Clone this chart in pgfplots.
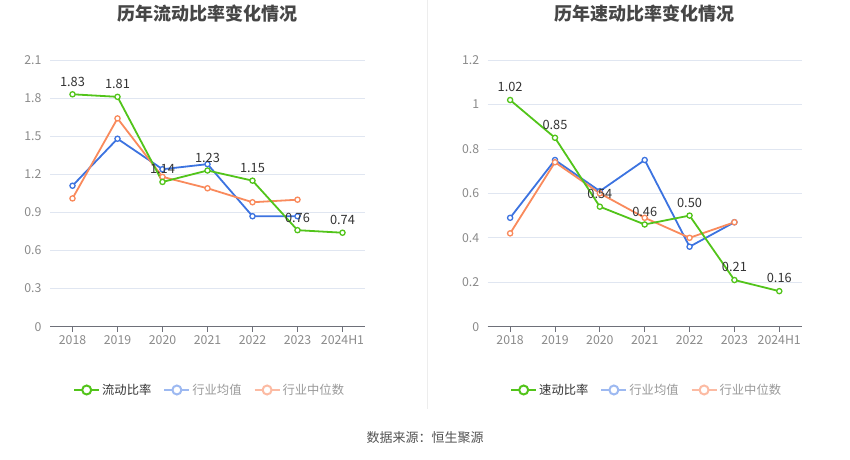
\documentclass[border=0pt]{standalone}
\usepackage{fontspec}
\setmainfont{Noto Sans CJK SC}
\usepackage{pgfplots}
\pgfplotsset{compat=1.18}
\definecolor{cgreen}{HTML}{52C41A}
\definecolor{cblue}{HTML}{3C73E0}
\definecolor{corange}{HTML}{F98A5C}
\definecolor{lblue}{HTML}{9DB9F1}
\definecolor{lorange}{HTML}{FCBBA3}
\definecolor{gridc}{HTML}{E0E6F1}
\definecolor{axisc}{HTML}{6E7079}
\definecolor{tickc}{HTML}{8A8A8A}
\definecolor{darkt}{HTML}{333333}
\definecolor{titlec}{HTML}{464646}
\definecolor{legt}{HTML}{999999}
\pgfplotsset{
 mystyle/.style={
  scale only axis, height=266.7pt,
  xmin=-0.5, xmax=6.5, ymin=0,
  xtick={0,...,6}, xticklabels={2018,2019,2020,2021,2022,2023,2024H1},
  axis x line*=bottom, axis y line*=left,
  y axis line style={draw=none}, ytick style={draw=none},
  x axis line style={axisc, line width=0.8pt, -},
  xtick style={axisc, line width=0.8pt},
  major tick length=5pt, tick align=outside,
  ymajorgrids, grid style={gridc, line width=0.8pt},
  tick label style={font=\fontsize{12.3}{14}\selectfont, color=tickc},
  /pgf/number format/assume math mode=true,
  yticklabel style={/pgf/number format/fixed},
  clip=false,
  title style={at={(0.5,1)}, anchor=center, yshift=40pt, font=\bfseries\fontsize{18}{21}\selectfont, color=titlec},
  legend columns=3,
  legend style={draw=none, fill=none, inner sep=0pt, anchor=west,
    font=\fontsize{12.3}{14}\selectfont,
    /tikz/every even column/.append style={column sep=10pt},
    nodes={inner sep=2pt}},
  legend cell align=left,
 },
 mainline/.style={cgreen, line width=1.8pt, mark=*, mark size=2.6pt,
   mark options={fill=white, line width=1.3pt},
   nodes near coords={\pgfmathprintnumber[fixed,fixed zerofill,precision=2]{\pgfplotspointmeta}},
   every node near coord/.style={font=\fontsize{12.8}{15}\selectfont, color=darkt, anchor=south, yshift=4pt},
   legend image code/.code={\draw[cgreen, line width=2pt] (0pt,0pt) -- (25pt,0pt); \draw[cgreen, line width=2pt, fill=white] (12.5pt,0pt) circle (4.5pt);}},
 blueline/.style={cblue, line width=1.8pt, mark=*, mark size=2.6pt,
   mark options={fill=white, line width=1.3pt},
   legend image code/.code={\draw[lblue, line width=2pt] (0pt,0pt) -- (25pt,0pt); \draw[lblue, line width=2pt, fill=white] (12.5pt,0pt) circle (4.5pt);}},
 orangeline/.style={corange, line width=1.8pt, mark=*, mark size=2.6pt,
   mark options={fill=white, line width=1.3pt},
   legend image code/.code={\draw[lorange, line width=2pt] (0pt,0pt) -- (25pt,0pt); \draw[lorange, line width=2pt, fill=white] (12.5pt,0pt) circle (4.5pt);}},
}
\begin{document}
\begin{tikzpicture}[x=1pt,y=1pt]
\useasboundingbox (0,0) rectangle (850,459);
\draw[color=black!7, line width=0.8pt] (427,459) -- (427,50);
\begin{axis}[mystyle, width=315pt, at={(50pt,132.3pt)}, anchor=south west,
  ymax=2.1, ytick={0,0.3,0.6,0.9,1.2,1.5,1.8,2.1},
  title={历年流动比率变化情况},
  legend style={at={(0.073,-0.2373)}}]
\addplot[blueline] coordinates {(0,1.11) (1,1.48) (2,1.24) (3,1.28) (4,0.87) (5,0.87)};
\addplot[orangeline] coordinates {(0,1.01) (1,1.64) (2,1.18) (3,1.09) (4,0.98) (5,1.00)};
\addplot[mainline] coordinates {(0,1.83) (1,1.81) (2,1.14) (3,1.23) (4,1.15) (5,0.76) (6,0.74)};
\legend{}
\end{axis}
\begin{axis}[mystyle, width=315pt, at={(50pt,132.3pt)}, anchor=south west,
  ymax=2.1, hide axis, title={},
  legend style={at={(0.073,-0.2373)}}]
\addlegendimage{mainline}\addlegendentry{\textcolor{darkt}{流动比率}}
\addlegendimage{blueline}\addlegendentry{\textcolor{legt}{行业均值}}
\addlegendimage{orangeline}\addlegendentry{\textcolor{legt}{行业中位数}}
\end{axis}
\begin{axis}[mystyle, width=314pt, at={(487.7pt,132.3pt)}, anchor=south west,
  ymax=1.2, ytick={0,0.2,0.4,0.6,0.8,1,1.2},
  title={历年速动比率变化情况},
  legend style={at={(0.071,-0.2373)}}]
\addplot[blueline] coordinates {(0,0.49) (1,0.75) (2,0.61) (3,0.75) (4,0.36) (5,0.47)};
\addplot[orangeline] coordinates {(0,0.42) (1,0.74) (2,0.60) (3,0.49) (4,0.40) (5,0.47)};
\addplot[mainline] coordinates {(0,1.02) (1,0.85) (2,0.54) (3,0.46) (4,0.50) (5,0.21) (6,0.16)};
\legend{}
\end{axis}
\begin{axis}[mystyle, width=314pt, at={(487.7pt,132.3pt)}, anchor=south west,
  ymax=1.2, hide axis, title={},
  legend style={at={(0.071,-0.2373)}}]
\addlegendimage{mainline}\addlegendentry{\textcolor{darkt}{速动比率}}
\addlegendimage{blueline}\addlegendentry{\textcolor{legt}{行业均值}}
\addlegendimage{orangeline}\addlegendentry{\textcolor{legt}{行业中位数}}
\end{axis}
\node[font=\fontsize{13}{15}\selectfont, color=darkt!85] at (425,21) {数据来源：恒生聚源};
\end{tikzpicture}
\end{document}
